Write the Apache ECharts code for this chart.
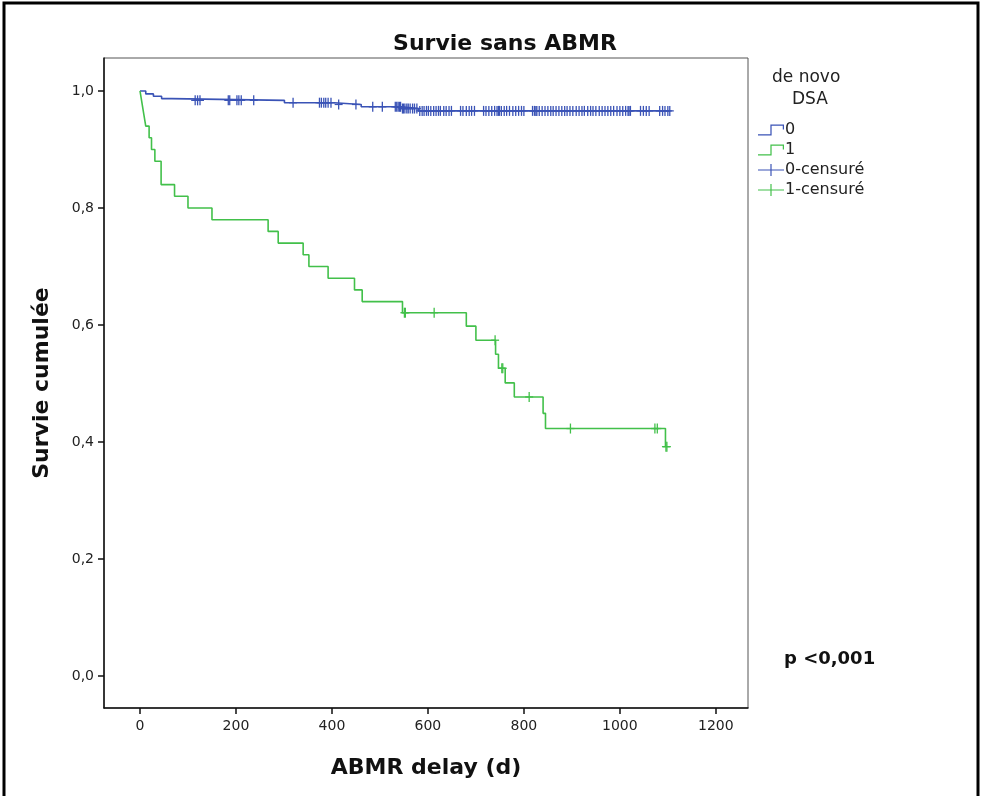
<!DOCTYPE html>
<html>
<head>
<meta charset="utf-8">
<script src="https://cdn.jsdelivr.net/npm/echarts@6/dist/echarts.min.js"></script>
<style>
  html, body { margin: 0; padding: 0; background: #fff; }
  #chart { width: 985px; height: 796px; }
</style>
</head>
<body>
<div id="chart"></div>
<script>
// Kaplan-Meier steps, group "0" (no de novo DSA)
const timeBlue = [0, 12, 28, 45, 66, 301, 405, 461, 545, 580, 1105];
const survBlue = [1.0, 0.995, 0.991, 0.987, 0.984, 0.980, 0.977, 0.973, 0.970, 0.966, 0.966];
// censored times, group "0"
const censBlue = [115, 120, 125, 184, 187, 202, 206, 211, 237, 319, 374, 378, 383, 387, 392, 398, 414, 450, 485, 505,
  532, 535, 538, 541, 543, 547, 549, 552, 556, 559, 563, 568, 572, 577,
  583, 588, 592, 597, 601, 606, 612, 617, 622, 626, 633, 638, 644, 649,
  668, 673, 680, 686, 691, 697, 716, 721, 727, 733, 739, 744, 747, 749, 753, 759, 764, 770, 777, 783, 789, 795, 800,
  818, 822, 825, 827, 832, 838, 844, 850, 856, 861, 867, 873, 879, 885, 890, 896, 902, 909, 915, 921, 926, 933,
  939, 944, 950, 957, 963, 969, 975, 981, 987, 994, 1000, 1006, 1012, 1017, 1019, 1022, 1043, 1049, 1055, 1061,
  1083, 1089, 1094, 1100, 1104];

// Kaplan-Meier steps, group "1" (de novo DSA)
const timeGreen = [0, 4, 8, 12, 19, 24, 31, 44, 72, 100, 150, 267, 288, 340, 352, 392, 447, 463, 547, 680, 700, 741, 747, 761, 780, 840, 845, 1095];
const survGreen = [1.0, 0.98, 0.96, 0.94, 0.92, 0.90, 0.88, 0.84, 0.82, 0.80, 0.78, 0.76, 0.74, 0.72, 0.70, 0.68, 0.66, 0.64, 0.621, 0.598, 0.574, 0.550, 0.526, 0.501, 0.477, 0.449, 0.423, 0.392];
const censGreen = [551, 553, 613, 740, 754, 756, 811, 897, 1073, 1078, 1096, 1098];

const ticksX = [0, 200, 400, 600, 800, 1000, 1200];
const ticksY = [0, 0.2, 0.4, 0.6, 0.8, 1.0];

const BLUE = '#3a53b6';
const GREEN = '#42c04a';

// survival value of a step curve at time t
function survAt(times, surv, t) {
  let v = surv[0];
  for (let i = 0; i < times.length; i++) {
    if (times[i] <= t) v = surv[i];
  }
  return v;
}

function censorSeries(name, cens, times, surv, color) {
  return {
    name: name,
    type: 'custom',
    data: cens.map(t => [t, survAt(times, surv, t)]),
    encode: { x: 0, y: 1 },
    itemStyle: { color: color },
    z: 4,
    renderItem: function (params, api) {
      const p = api.coord([api.value(0), api.value(1)]);
      return {
        type: 'group',
        children: [
          { type: 'line', shape: { x1: p[0], y1: p[1] - 5, x2: p[0], y2: p[1] + 5 }, style: { stroke: color, lineWidth: 1.3 } },
          { type: 'line', shape: { x1: p[0] - 4, y1: p[1], x2: p[0] + 4, y2: p[1] }, style: { stroke: color, lineWidth: 1.3 } }
        ]
      };
    }
  };
}

const stepIcon = 'path://M0,9 L10,9 L10,1 L21,1 L21,5 L20,5 L20,2 L11,2 L11,10 L0,10 Z';
const plusIcon = 'path://M0,4.5 L10.5,4.5 L10.5,0 L11.5,0 L11.5,4.5 L22,4.5 L22,5.5 L11.5,5.5 L11.5,10 L10.5,10 L10.5,5.5 L0,5.5 Z';

const chart = echarts.init(document.getElementById('chart'));

chart.setOption({
  animation: false,
  backgroundColor: '#fff',
  textStyle: { fontFamily: 'DejaVu Sans' },
  grid: { left: 104, right: 237, top: 58, bottom: 88, show: true, borderColor: '#555', borderWidth: 1 },
  xAxis: {
    type: 'value',
    min: -75,
    max: 1267,
    name: 'ABMR delay (d)',
    nameLocation: 'middle',
    nameGap: 49,
    nameTextStyle: { fontFamily: 'DejaVu Sans', fontWeight: 'bold', fontSize: 22, color: '#111' },
    splitLine: { show: false },
    axisLine: { show: true, onZero: false, lineStyle: { color: '#111', width: 1.5 } },
    axisTick: { show: true, length: 6, lineStyle: { color: '#111', width: 1.5 }, customValues: ticksX },
    axisLabel: { margin: 11, fontSize: 14, color: '#222', customValues: ticksX, formatter: v => String(v) }
  },
  yAxis: {
    type: 'value',
    min: -0.0547,
    max: 1.0564,
    name: 'Survie cumulée',
    nameLocation: 'middle',
    nameGap: 51,
    nameTextStyle: { fontFamily: 'DejaVu Sans', fontWeight: 'bold', fontSize: 22, color: '#111' },
    splitLine: { show: false },
    axisLine: { show: true, onZero: false, lineStyle: { color: '#111', width: 1.5 } },
    axisTick: { show: true, length: 6, lineStyle: { color: '#111', width: 1.5 }, customValues: ticksY },
    axisLabel: {
      margin: 10, fontSize: 14, color: '#222', customValues: ticksY,
      formatter: v => v.toFixed(1).replace('.', ',')
    }
  },
  title: {
    text: 'Survie sans ABMR',
    left: 500,
    top: 28,
    textAlign: 'center',
    textStyle: { fontFamily: 'DejaVu Sans', fontWeight: 'bold', fontSize: 22, color: '#111' }
  },
  legend: {
    orient: 'vertical',
    left: 753,
    top: 117,
    itemWidth: 26,
    itemHeight: 12,
    itemGap: 4,
    selectedMode: false,
    textStyle: { fontFamily: 'DejaVu Sans', fontSize: 16, color: '#222', padding: [0, 0, 0, -4] },
    data: [
      { name: '0', icon: stepIcon },
      { name: '1', icon: stepIcon },
      { name: '0-censuré', icon: plusIcon },
      { name: '1-censuré', icon: plusIcon }
    ]
  },
  graphic: [
    { type: 'text', left: 772, top: 69, style: { text: 'de novo', fontFamily: 'DejaVu Sans', fontSize: 17, fill: '#222' } },
    { type: 'text', left: 792, top: 91, style: { text: 'DSA', fontFamily: 'DejaVu Sans', fontSize: 17, fill: '#222' } },
    { type: 'text', left: 784, top: 650, style: { text: 'p <0,001', fontFamily: 'DejaVu Sans', fontWeight: 'bold', fontSize: 18, fill: '#111' } },
    { type: 'rect', shape: { x: 4, y: 3, width: 974, height: 800 }, style: { fill: 'none', stroke: '#000', lineWidth: 3 }, z: 10 }
  ],
  series: [
    {
      name: '0', type: 'line', step: 'end', symbol: 'none', z: 3,
      data: timeBlue.map((t, i) => [t, survBlue[i]]),
      itemStyle: { color: BLUE },
      lineStyle: { color: BLUE, width: 1.6 }
    },
    {
      name: '1', type: 'line', step: 'end', symbol: 'none', z: 3,
      data: timeGreen.map((t, i) => [t, survGreen[i]]),
      itemStyle: { color: GREEN },
      lineStyle: { color: GREEN, width: 1.6 }
    },
    censorSeries('0-censuré', censBlue, timeBlue, survBlue, BLUE),
    censorSeries('1-censuré', censGreen, timeGreen, survGreen, GREEN)
  ]
});
</script>
</body>
</html>
